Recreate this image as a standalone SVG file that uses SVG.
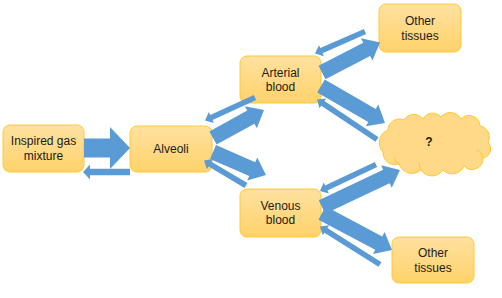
<svg xmlns="http://www.w3.org/2000/svg" width="502" height="298" viewBox="0 0 502 298">
<defs>
<linearGradient id="gold" x1="0" y1="0" x2="0" y2="1">
<stop offset="0" stop-color="#FFE1A0"/>
<stop offset="1" stop-color="#FFD26A"/>
</linearGradient>
</defs>
<style>
.box{fill:url(#gold);stroke:#FFC832;stroke-width:1}
.cloud{fill:#FFD888;stroke:#FFC832;stroke-width:1}
.inner{fill:none;stroke:#FFC832;stroke-width:1}
.arr{fill:#5B9BD5}
text{font-family:"Liberation Sans",Arial,sans-serif;font-size:12px;fill:#1a1a1a;text-anchor:middle}
.q{font-weight:bold}
</style>
<rect width="502" height="298" fill="#ffffff"/>
<g id="inspired">
<rect class="box" x="3" y="125" width="81" height="47" rx="7"/>
<text x="43.5" y="145">Inspired gas</text>
<text x="43.5" y="160">mixture</text>
</g>
<g id="alveoli">
<rect class="box" x="130" y="126" width="82" height="46" rx="7"/>
<text x="171" y="153">Alveoli</text>
</g>
<g id="arterial">
<rect class="box" x="240" y="56" width="81" height="47" rx="7"/>
<text x="280.5" y="77">Arterial</text>
<text x="280.5" y="91">blood</text>
</g>
<g id="venous">
<rect class="box" x="240" y="189" width="81" height="48" rx="7"/>
<text x="280.5" y="210">Venous</text>
<text x="280.5" y="224">blood</text>
</g>
<g id="tissues-top">
<rect class="box" x="379" y="4" width="82" height="48" rx="7"/>
<text x="420" y="25">Other</text>
<text x="420" y="40">tissues</text>
</g>
<g id="tissues-bottom">
<rect class="box" x="392" y="237" width="82" height="46" rx="7"/>
<text x="433" y="257">Other</text>
<text x="433" y="272">tissues</text>
</g>
<g id="unknown">
<path class="cloud" d="M383,152 A13.5,13.5 0 0 1 388,130 A11.3,11.3 0 0 1 404,120 A11.4,11.4 0 0 1 423,119 A10.9,10.9 0 0 1 441,117 A12,12 0 0 1 461,119 A11,11 0 0 1 480,126 A11,11 0 0 1 488,142 A9.5,9.5 0 0 1 483,158 A11,11 0 0 1 464,166 A12.8,12.8 0 0 1 443,170 A13.2,13.2 0 0 1 421,170 A13.7,13.7 0 0 1 399,164 A12,12 0 0 1 383,152 Z"/>
<path class="inner" d="M399,164 A12,12 0 0 1 394,158"/>
<path class="inner" d="M421,170 A13,13 0 0 1 419,163"/>
<path class="inner" d="M483,158 A10,10 0 0 0 476,150"/>
<text class="q" x="429" y="146">?</text>
</g>
<g id="connectors">
<path class="arr" transform="translate(84,148)" d="M0,-9.5 H26 V-21 L46,0 L26,21 V9.5 H0 Z"/>
<path class="arr" transform="translate(130,172) rotate(180)" d="M0,-3.2 H40 V-7.5 L47,0 L40,7.5 V3.2 H0 Z"/>
<path class="arr" transform="translate(213,138) rotate(-28.8)" d="M0,-7.5 H43.2 V-12.5 L58.2,0 L43.2,12.5 V7.5 H0 Z"/>
<path class="arr" transform="translate(255,97.5) rotate(155.3)" d="M0,-2.8 H48 V-6 L55,0 L48,6 V2.8 H0 Z"/>
<path class="arr" transform="translate(213,152) rotate(23.5)" d="M0,-7.5 H42.8 V-12.5 L57.8,0 L42.8,12.5 V7.5 H0 Z"/>
<path class="arr" transform="translate(246,185.5) rotate(210.8)" d="M0,-2.8 H41.9 V-6 L48.9,0 L41.9,6 V2.8 H0 Z"/>
<path class="arr" transform="translate(322,72.5) rotate(-27.3)" d="M0,-7.5 H50.3 V-12.5 L65.3,0 L50.3,12.5 V7.5 H0 Z"/>
<path class="arr" transform="translate(365,31.5) rotate(156.3)" d="M0,-2.8 H47.6 V-6 L54.6,0 L47.6,6 V2.8 H0 Z"/>
<path class="arr" transform="translate(321,86) rotate(30)" d="M0,-7.5 H58.9 V-12.5 L73.9,0 L58.9,12.5 V7.5 H0 Z"/>
<path class="arr" transform="translate(377,139.5) rotate(213.7)" d="M0,-2.8 H65.1 V-6 L72.1,0 L65.1,6 V2.8 H0 Z"/>
<path class="arr" transform="translate(322,207) rotate(-25.4)" d="M0,-7.5 H71.3 V-12.5 L86.3,0 L71.3,12.5 V7.5 H0 Z"/>
<path class="arr" transform="translate(376,164.5) rotate(154.7)" d="M0,-2.8 H55 V-6 L62,0 L55,6 V2.8 H0 Z"/>
<path class="arr" transform="translate(322,213) rotate(27.9)" d="M0,-7.5 H64.2 V-12.5 L79.2,0 L64.2,12.5 V7.5 H0 Z"/>
<path class="arr" transform="translate(380,264.5) rotate(212.3)" d="M0,-2.8 H64 V-6 L71,0 L64,6 V2.8 H0 Z"/>
</g>
</svg>
